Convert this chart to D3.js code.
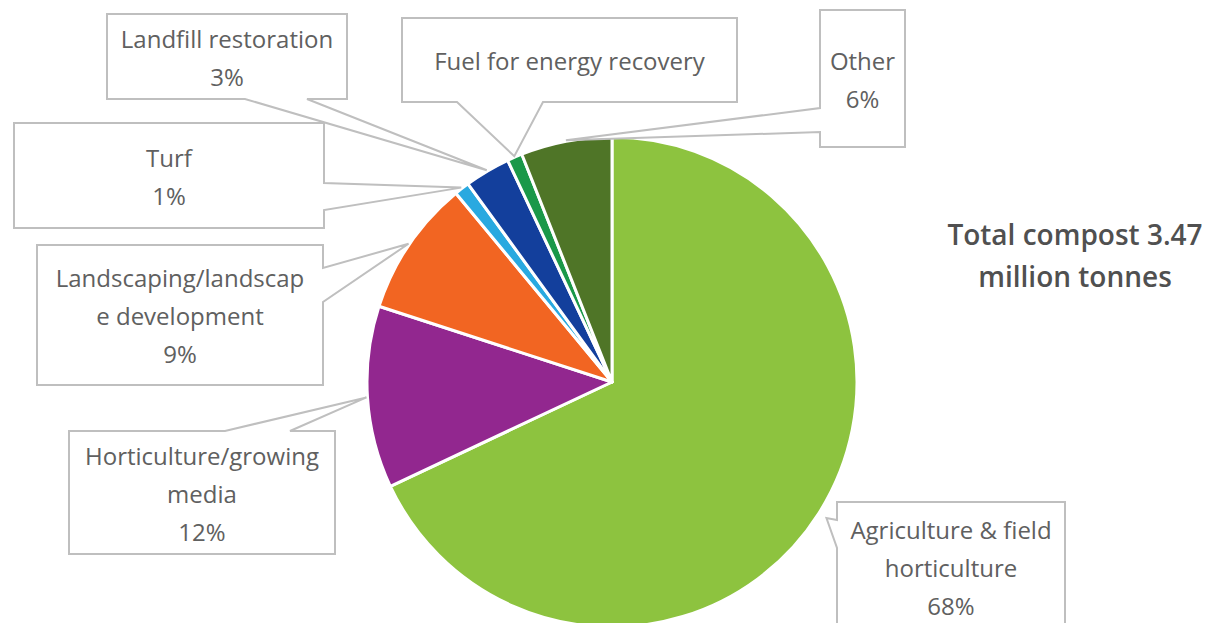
<!DOCTYPE html>
<html>
<head>
<meta charset="utf-8">
<script src="https://cdn.jsdelivr.net/npm/d3@7"></script>
<style>
  html, body { margin: 0; padding: 0; background: #fff; }
  svg { display: block; }
</style>
</head>
<body>
<svg id="chart" width="1211" height="623"></svg>
<script>
// ---- Data ----
const categories = [
  "Agriculture & field horticulture",
  "Horticulture/growing media",
  "Landscaping/landscape development",
  "Turf",
  "Landfill restoration",
  "Fuel for energy recovery",
  "Other"
];
const values = [68, 12, 9, 1, 3, 1, 6];
const labelLines = [
  ["Agriculture & field", "horticulture", "68%"],
  ["Horticulture/growing", "media", "12%"],
  ["Landscaping/landscap", "e development", "9%"],
  ["Turf", "1%"],
  ["Landfill restoration", "3%"],
  ["Fuel for energy recovery"],
  ["Other", "6%"]
];
const colors = ["#8dc33f", "#92278f", "#f26522", "#29a9e0", "#133f9c", "#1a9849", "#4f7527"];
const titleLines = ["Total compost 3.47", "million tonnes"];

// ---- Layout ----
const cx = 612, cy = 382, R = 245;
const fontFamily = "'Open Sans', Lato, sans-serif";
const textColor = "#606060";
const boxStroke = "#bfbfbf";
// callout boxes: x,y,w,h, side of pointer, base positions along that side, tip extra radius
const callouts = [
  {x: 837, y: 502, w: 228, h: 130, side: "left",   b: [520, 548], extra: 8},
  {x: 69,  y: 431, w: 266, h: 123, side: "top",    b: [225, 290], extra: 0},
  {x: 37,  y: 245, w: 286, h: 140, side: "right",  b: [268, 302], extra: 0},
  {x: 14,  y: 123, w: 310, h: 105, side: "right",  b: [183, 210], extra: 0},
  {x: 107, y: 14,  w: 240, h: 85,  side: "bottom", b: [245, 307], extra: 0},
  {x: 402, y: 18,  w: 335, h: 84,  side: "bottom", b: [457, 543], extra: 0},
  {x: 820, y: 10,  w: 85,  h: 137, side: "left",   b: [108, 132], extra: 0}
];

const svg = d3.select("#chart");
const g = svg.append("g").attr("transform", `translate(${cx},${cy})`);

const pie = d3.pie().sort(null).value(d => d);
const arcs = pie(values);
const arc = d3.arc().innerRadius(0).outerRadius(R);

g.selectAll("path.slice")
  .data(arcs)
  .join("path")
  .attr("class", "slice")
  .attr("d", arc)
  .attr("fill", (d, i) => colors[i])
  .attr("stroke", "#fff")
  .attr("stroke-width", 3)
  .attr("stroke-linejoin", "round");

// callouts
function calloutPath(c, tip) {
  const {x, y, w, h, side, b} = c;
  const x2 = x + w, y2 = y + h;
  const p = d3.path();
  if (side === "bottom") {
    p.moveTo(x, y); p.lineTo(x2, y); p.lineTo(x2, y2);
    p.lineTo(b[1], y2); p.lineTo(tip[0], tip[1]); p.lineTo(b[0], y2);
    p.lineTo(x, y2); p.closePath();
  } else if (side === "top") {
    p.moveTo(x, y); p.lineTo(b[0], y); p.lineTo(tip[0], tip[1]); p.lineTo(b[1], y);
    p.lineTo(x2, y); p.lineTo(x2, y2); p.lineTo(x, y2); p.closePath();
  } else if (side === "right") {
    p.moveTo(x, y); p.lineTo(x2, y); p.lineTo(x2, b[0]); p.lineTo(tip[0], tip[1]);
    p.lineTo(x2, b[1]); p.lineTo(x2, y2); p.lineTo(x, y2); p.closePath();
  } else {
    p.moveTo(x, y); p.lineTo(x2, y); p.lineTo(x2, y2); p.lineTo(x, y2);
    p.lineTo(x, b[1]); p.lineTo(tip[0], tip[1]); p.lineTo(x, b[0]); p.closePath();
  }
  return p.toString();
}

const lineH = 38;
arcs.forEach((d, i) => {
  const c = callouts[i];
  const mid = (d.startAngle + d.endAngle) / 2;
  const rr = R + 1 + c.extra;
  const tip = [cx + rr * Math.sin(mid), cy - rr * Math.cos(mid)];
  svg.append("path")
    .attr("d", calloutPath(c, tip))
    .attr("fill", "none")
    .attr("stroke", boxStroke)
    .attr("stroke-width", 2)
    .attr("stroke-linejoin", "miter");
  const lines = labelLines[i];
  const midY = c.y + c.h / 2 + 2;
  const t = svg.append("text")
    .attr("x", c.x + c.w / 2)
    .attr("text-anchor", "middle")
    .attr("font-family", fontFamily)
    .attr("font-size", 24)
    .attr("fill", textColor);
  lines.forEach((ln, k) => {
    t.append("tspan")
      .attr("x", c.x + c.w / 2)
      .attr("y", midY + (k - (lines.length - 1) / 2) * lineH)
      .attr("dy", "0.35em")
      .text(ln);
  });
});

// title
const tt = svg.append("text")
  .attr("text-anchor", "middle")
  .attr("font-family", fontFamily)
  .attr("font-size", 28)
  .attr("font-weight", 600)
  .attr("fill", "#505050");
titleLines.forEach((ln, k) => {
  tt.append("tspan").attr("x", 1075).attr("y", 235 + k * 42).attr("dy", "0.35em").text(ln);
});
</script>
</body>
</html>
